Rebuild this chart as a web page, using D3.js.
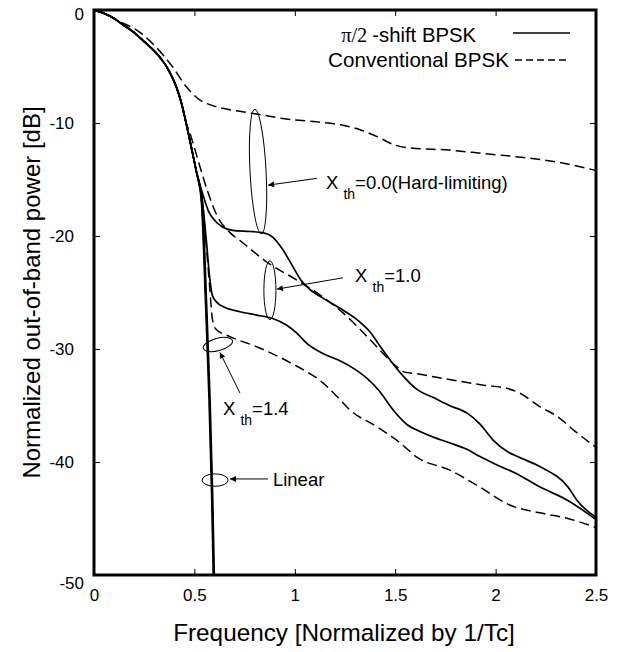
<!DOCTYPE html>
<html><head><meta charset="utf-8">
<script src="https://cdn.jsdelivr.net/npm/d3@7"></script>
<style>
body{margin:0;background:#fff;}
text{font-family:"Liberation Sans",Arial,Helvetica,sans-serif;fill:#000;}
</style></head>
<body><svg id="chart" width="631" height="652"></svg>
<script>
// ---------- data ----------
const xTicks = [0, 0.5, 1, 1.5, 2, 2.5];
const xTickLabels = ["0", "0.5", "1", "1.5", "2", "2.5"];
const yTicks = [0, -10, -20, -30, -40, -50];
const yTickLabels = ["0", "-10", "-20", "-30", "-40", "-50"];

const bundle = [[0,0],[0.05,-0.3],[0.1,-0.75],[0.144,-1.3],[0.2,-2],[0.25,-2.8],[0.31,-3.8],[0.35,-4.7],[0.38,-5.6],[0.41,-6.8],[0.435,-8.2],[0.46,-10.1],[0.49,-12.6],[0.51,-14.3]];

const linearPi2 = bundle.concat([[0.535,-17],[0.555,-25.7],[0.573,-34.5],[0.586,-43],[0.594,-50]]);
const linearConv = bundle.concat([[0.536,-17],[0.557,-25.7],[0.575,-34.5],[0.588,-43],[0.596,-50]]);
const pi2X14 = bundle.concat([[0.54,-17],[0.56,-25.7],[0.578,-34.5],[0.591,-43],[0.599,-50]]);
const pi2X10 = bundle.concat([[0.54,-17],[0.56,-20.5],[0.575,-23.5],[0.59,-25.3],[0.62,-26],[0.65,-26.3],[0.727,-26.7],[0.81,-27],[0.89,-27.3],[0.96,-27.9],[1.01,-28.6],[1.06,-29.5],[1.14,-30.4],[1.22,-31],[1.3,-31.8],[1.36,-32.6],[1.42,-33.7],[1.49,-35.4],[1.56,-36.7],[1.61,-37.2],[1.69,-37.8],[1.77,-38.3],[1.86,-38.9],[1.92,-39.5],[2.0,-40.2],[2.1,-41],[2.22,-42.2],[2.36,-43.4],[2.5,-45.1]]);
const pi2X00 = bundle.concat([[0.545,-16.5],[0.57,-17.8],[0.6,-18.6],[0.64,-19.2],[0.69,-19.5],[0.777,-19.6],[0.84,-19.7],[0.89,-20.1],[0.94,-21.2],[0.99,-22.7],[1.03,-23.9],[1.08,-24.8],[1.14,-25.5],[1.225,-26.4],[1.31,-27.4],[1.375,-28.5],[1.43,-29.9],[1.48,-31.1],[1.53,-32.2],[1.61,-33.6],[1.69,-34.3],[1.77,-35],[1.86,-35.7],[1.92,-36.6],[1.99,-38.1],[2.06,-39.1],[2.12,-39.6],[2.22,-40.4],[2.36,-42.2],[2.41,-43.5],[2.5,-44.9]]);
const convX00 = [[0,0],[0.05,-0.25],[0.115,-0.9],[0.23,-2],[0.31,-3.3],[0.39,-5],[0.46,-6.8],[0.53,-8],[0.58,-8.4],[0.64,-8.7],[0.74,-9],[0.84,-9.3],[0.94,-9.6],[1.11,-9.9],[1.24,-10.2],[1.325,-10.6],[1.41,-11.2],[1.49,-11.9],[1.57,-12.2],[1.77,-12.4],[1.94,-12.7],[2.11,-13],[2.32,-13.5],[2.5,-14.2]];
const convX10 = bundle.slice(0,12).concat([[0.47,-10.5],[0.5,-12.2],[0.53,-14],[0.565,-16],[0.613,-18.2],[0.677,-19.7],[0.727,-20.4],[0.86,-22.3],[1.01,-23.9],[1.14,-25.4],[1.24,-26.8],[1.36,-28.9],[1.44,-30.4],[1.51,-31.6],[1.54,-32],[1.61,-32.2],[1.77,-32.7],[1.94,-33.2],[2.06,-33.5],[2.12,-33.9],[2.22,-35.1],[2.31,-36],[2.39,-37.2],[2.5,-38.7]]);
const convX14 = bundle.concat([[0.537,-16.5],[0.56,-21],[0.576,-24.5],[0.59,-27.4],[0.605,-28.2],[0.677,-28.9],[0.81,-29.8],[0.976,-31.2],[1.14,-33],[1.21,-34.2],[1.275,-35.4],[1.41,-36.9],[1.524,-38.3],[1.61,-39.6],[1.77,-40.7],[1.92,-42.2],[2.07,-43.8],[2.22,-44.5],[2.36,-45],[2.5,-45.8]]);

const solidSeries = [linearPi2, pi2X14, pi2X10, pi2X00];
const dashedSeries = [linearConv, convX14, convX10, convX00];

const legendLabels = ["-shift BPSK", "Conventional BPSK"];

// annotations (data units)
const ellipses = [
  {f:0.817, db:-14.3, rf:0.04, rdb:5.5, rot:-3},
  {f:0.876, db:-24.8, rf:0.03, rdb:2.6, rot:0},
  {f:0.617, db:-29.6, rf:0.075, rdb:0.55, rot:-15},
  {f:0.603, db:-41.6, rf:0.065, rdb:0.55, rot:0}
];
const arrows = [
  {f1:1.11, d1:-14.9, f2:0.867, d2:-15.5},
  {f1:1.24, d1:-23.7, f2:0.911, d2:-24.7},
  {f1:0.727, d1:-33.9, f2:0.627, d2:-30.3},
  {f1:0.867, d1:-41.5, f2:0.677, d2:-41.5}
];
const xthLabels = [
  {f:1.155, db:-15.84, val:"=0.0(Hard-limiting)"},
  {f:1.30, db:-24.07, val:"=1.0"},
  {f:0.642, db:-35.84, val:"=1.4"}
];
const linearLabel = {f:0.891, db:-42.1, text:"Linear"};

// ---------- drawing ----------
const svg = d3.select("#chart");
const L = 94, R = 596, T = 10, B = 575;
const x = d3.scaleLinear().domain([0, 2.5]).range([L, R]);
const y = d3.scaleLinear().domain([-50, 0]).range([B, T]);

svg.append("defs").append("clipPath").attr("id","clip")
  .append("rect").attr("x",L).attr("y",T).attr("width",R-L).attr("height",B-T);
const marker = svg.select("defs").append("marker").attr("id","arr")
  .attr("viewBox","0 0 10 10").attr("refX",10).attr("refY",5)
  .attr("markerWidth",8).attr("markerHeight",6).attr("orient","auto")
  .attr("markerUnits","userSpaceOnUse");
marker.append("path").attr("d","M0,0 L10,5 L0,10 Z").attr("fill","#000");

const line = d3.line().x(d=>x(d[0])).y(d=>y(d[1])).curve(d3.curveMonotoneX);
const g = svg.append("g").attr("clip-path","url(#clip)");
g.selectAll(".sol").data(solidSeries).join("path")
  .attr("d",line).attr("fill","none").attr("stroke","#000").attr("stroke-width",1.7);
g.selectAll(".das").data(dashedSeries).join("path")
  .attr("d",line).attr("fill","none").attr("stroke","#000").attr("stroke-width",1.5)
  .attr("stroke-dasharray","10,5");

// axes with inward ticks
const tickLen = 6;
const axB = svg.append("g").attr("transform",`translate(0,${B})`)
  .call(d3.axisBottom(x).tickValues(xTicks).tickSize(-tickLen).tickPadding(14).tickFormat((d,i)=>xTickLabels[i]));
const axT = svg.append("g").attr("transform",`translate(0,${T})`)
  .call(d3.axisTop(x).tickValues(xTicks).tickSize(-tickLen).tickFormat(""));
const axL = svg.append("g").attr("transform",`translate(${L},0)`)
  .call(d3.axisLeft(y).tickValues(yTicks).tickSize(-tickLen).tickPadding(20).tickFormat((d,i)=>yTickLabels[i]));
const axR = svg.append("g").attr("transform",`translate(${R},0)`)
  .call(d3.axisRight(y).tickValues(yTicks).tickSize(-tickLen).tickFormat(""));
[axB,axT,axL,axR].forEach(a=>{
  a.select(".domain").remove();
  a.selectAll(".tick line").attr("stroke","#000").attr("stroke-width",1);
  a.selectAll(".tick text").style("font-family","'Liberation Sans',Arial,sans-serif").attr("font-size",17).attr("fill","#000");
});
// end labels of the y axis sit closer to the frame, as in the original
axL.selectAll(".tick text").filter(d=>d===0).attr("dx",10).attr("dy","0.55em");
axL.selectAll(".tick text").filter(d=>d===-50).attr("dx",10).attr("dy","0.8em");
svg.append("rect").attr("x",L).attr("y",T).attr("width",R-L).attr("height",B-T)
  .attr("fill","none").attr("stroke","#000").attr("stroke-width",3);

// axis titles
svg.append("text").attr("x",(L+R)/2 - 1).attr("y",641).attr("text-anchor","middle")
  .attr("font-size",24.3).text("Frequency [Normalized by 1/Tc]");
svg.append("text").attr("transform",`translate(40,${(T+B)/2}) rotate(-90)`).attr("text-anchor","middle")
  .attr("font-size",24).text("Normalized out-of-band power [dB]");

// legend
const lg = svg.append("g");
const t1 = lg.append("text").attr("x",476).attr("y",42).attr("text-anchor","end").attr("font-size",20.3);
t1.append("tspan").style("font-family","'Liberation Serif','Times New Roman',serif").text("\u03c0/2 ");
t1.append("tspan").text(legendLabels[0]);
lg.append("text").attr("x",509).attr("y",67).attr("text-anchor","end").attr("font-size",20.6).text(legendLabels[1]);
lg.append("line").attr("x1",513).attr("x2",570).attr("y1",33).attr("y2",33).attr("stroke","#000").attr("stroke-width",1.5);
lg.append("line").attr("x1",515).attr("x2",570).attr("y1",60).attr("y2",60).attr("stroke","#000").attr("stroke-width",1.5).attr("stroke-dasharray","7,4");

// annotations
svg.selectAll(".ell").data(ellipses).join("ellipse")
  .attr("cx",0).attr("cy",0)
  .attr("rx",d=>x(d.rf)-x(0)).attr("ry",d=>y(-d.rdb)-y(0))
  .attr("transform",d=>`translate(${x(d.f)},${y(d.db)}) rotate(${d.rot})`)
  .attr("fill","none").attr("stroke","#000").attr("stroke-width",1);
svg.selectAll(".arw").data(arrows).join("line")
  .attr("x1",d=>x(d.f1)).attr("y1",d=>y(d.d1)).attr("x2",d=>x(d.f2)).attr("y2",d=>y(d.d2))
  .attr("stroke","#000").attr("stroke-width",1).attr("marker-end","url(#arr)");
xthLabels.forEach(l=>{
  const t = svg.append("text").attr("x",x(l.f)).attr("y",y(l.db)).attr("font-size",18.5);
  t.append("tspan").text("X ");
  t.append("tspan").attr("dy",10).attr("font-size",14).text("th");
  t.append("tspan").attr("dy",-10).text(l.val);
});
svg.append("text").attr("x",x(linearLabel.f)).attr("y",y(linearLabel.db)).attr("font-size",18.5).text(linearLabel.text);
</script></body></html>
